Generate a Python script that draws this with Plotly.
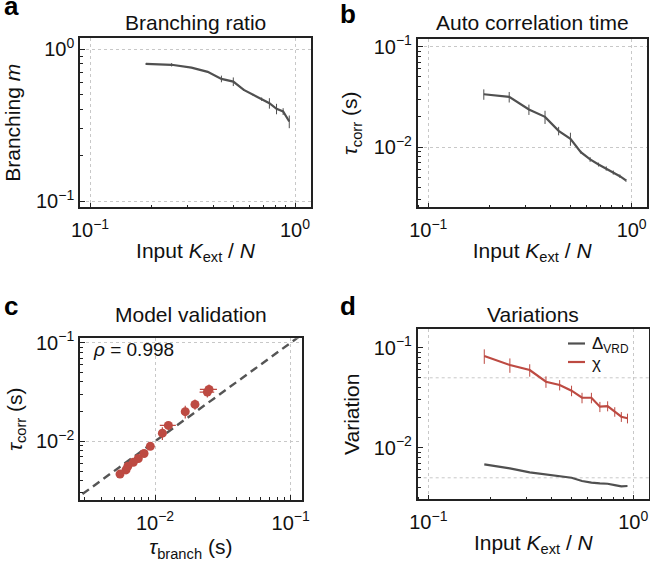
import plotly.graph_objects as go

# ---------------- data ----------------
k_ext = [0.1875, 0.25, 0.3125, 0.375, 0.4375, 0.5, 0.5625, 0.625, 0.6875, 0.75, 0.8125, 0.875, 0.9375]

branching_m = [0.80, 0.79, 0.757, 0.71, 0.638, 0.612, 0.54, 0.50, 0.469, 0.441, 0.405, 0.389, 0.334]
branching_err = [0.012, 0.02, 0.005, 0.005, 0.032, 0.04, 0.008, 0.008, 0.012, 0.035, 0.032, 0.02, 0.032]

tau_corr = [0.0336, 0.0316, 0.0237, 0.0200, 0.0145, 0.0121, 0.0089, 0.00753, 0.0067, 0.00612, 0.00558, 0.00513, 0.00465]
tau_corr_err = [0.004, 0.0038, 0.0028, 0.003, 0.0014, 0.0018, 0.0003, 0.0004, 0.0003, 0.0003, 0.00026, 0.0002, 0.00015]

tau_branch = [0.025, 0.0243, 0.0197, 0.0167, 0.01254, 0.01133, 0.00923, 0.0083, 0.00753, 0.00692, 0.0063, 0.00611, 0.00552]
tau_branch_err = [0.0036, 0.003, 0.0008, 0.0008, 0.0017, 0.0006, 0.0003, 0.0003, 0.0002, 0.0002, 0.0002, 0.0002, 0.0002]

delta_vrd = [0.00682, 0.00622, 0.00567, 0.00542, 0.00521, 0.00501, 0.00464, 0.00447, 0.0044, 0.00436, 0.00423, 0.00411, 0.00414]
chi = [0.0826, 0.0671, 0.0598, 0.0457, 0.0424, 0.0372, 0.0316, 0.0316, 0.0257, 0.0261, 0.0229, 0.0204, 0.0197]
chi_err = [0.0137, 0.011, 0.0085, 0.006, 0.005, 0.0045, 0.0038, 0.0038, 0.003, 0.003, 0.0025, 0.0023, 0.0022]

identity_line = [0.001, 1.0]
rho_text = "<i>ρ</i> = 0.998"

ticks_k = [0.1, 1.0]
ticks_k_text = ["10<sup>−1</sup>", "10<sup>0</sup>"]
ticks_m = [0.1, 1.0]
ticks_m_text = ["10<sup>−1</sup>", "10<sup>0</sup>"]
ticks_tau = [0.01, 0.1]
ticks_tau_text = ["10<sup>−2</sup>", "10<sup>−1</sup>"]
grid_d = [0.05, 0.005]

GRAY = "#505050"
RED = "#bd4a42"
FONT = "Liberation Sans, Arial, sans-serif"
W, H = 650, 562


def minor_vals(e0, e1):
    return [k * 10.0 ** e for e in range(e0, e1) for k in range(2, 10)]


fig = go.Figure()

# a
fig.add_trace(go.Scatter(x=k_ext, y=branching_m, mode="lines",
                         line=dict(color=GRAY, width=2.2),
                         error_y=dict(type="data", array=branching_err, color=GRAY, thickness=1, width=0),
                         xaxis="x", yaxis="y", showlegend=False))
# b
fig.add_trace(go.Scatter(x=k_ext, y=tau_corr, mode="lines",
                         line=dict(color=GRAY, width=2.2),
                         error_y=dict(type="data", array=tau_corr_err, color=GRAY, thickness=1, width=0),
                         xaxis="x2", yaxis="y2", showlegend=False))
# c
fig.add_trace(go.Scatter(x=identity_line, y=identity_line, mode="lines",
                         line=dict(color="#555555", width=2.4, dash="8px,5px"),
                         xaxis="x3", yaxis="y3", showlegend=False))
fig.add_trace(go.Scatter(x=tau_branch, y=tau_corr, mode="markers",
                         marker=dict(color=RED, size=9),
                         error_x=dict(type="data", array=tau_branch_err, color=RED, thickness=1.2, width=0),
                         error_y=dict(type="data", array=tau_corr_err, color=RED, thickness=1.2, width=0),
                         xaxis="x3", yaxis="y3", showlegend=False))
# d
fig.add_trace(go.Scatter(x=k_ext, y=delta_vrd, mode="lines", name="Δ<sub>VRD</sub>",
                         line=dict(color=GRAY, width=2.2),
                         xaxis="x4", yaxis="y4", showlegend=False))
fig.add_trace(go.Scatter(x=k_ext, y=chi, mode="lines", name="χ",
                         line=dict(color=RED, width=2.2),
                         error_y=dict(type="data", array=chi_err, color=RED, thickness=1, width=0),
                         xaxis="x4", yaxis="y4", showlegend=False))


def px_dom_x(a, b):
    return [a / W, b / W]


def px_dom_y(top, bottom):
    return [1 - bottom / H, 1 - top / H]


common = dict(type="log", showline=True, linecolor="#222222", linewidth=1.6, mirror=True,
              ticks="inside", ticklen=5, tickwidth=1.2, tickcolor="#222222",
              gridcolor="#c8c8c8", griddash="dot", gridwidth=1, zeroline=False,
              tickfont=dict(family=FONT, size=20, color="#111111"),
              ticklabeloverflow="allow", automargin=False)


def axis(domain, rng, tickvals, ticktext, minor, anchor, title, standoff, grid=True, lab_off=0):
    d = dict(common)
    d.update(domain=domain, range=rng, tickvals=tickvals, ticktext=ticktext, anchor=anchor,
             showgrid=grid, ticklabelstandoff=lab_off,
             minor=dict(tickvals=minor, ticks="inside", ticklen=3, tickwidth=1, tickcolor="#222222", showgrid=False),
             title=dict(text=title, font=dict(family=FONT, size=21, color="#111111"), standoff=standoff))
    return d


xlab = "Input <i>K</i><sub>ext</sub> / <i>N</i>"
fig.update_layout(
    width=W, height=H, margin=dict(l=0, r=0, t=0, b=0),
    plot_bgcolor="white", paper_bgcolor="white",
    font=dict(family=FONT, color="#111111"),
    xaxis=axis(px_dom_x(80, 311), [-1.049, 0.078], ticks_k, ticks_k_text, minor_vals(-2, 1), "y", xlab, 3, lab_off=4),
    yaxis=axis(px_dom_y(38.3, 207.3), [-1.041, 0.072], ticks_m, ticks_m_text, minor_vals(-2, 1), "x", "Branching <i>m</i>", 10),
    xaxis2=axis(px_dom_x(417.7, 646.7), [-1.052, 0.074], ticks_k, ticks_k_text, minor_vals(-2, 1), "y2", xlab, 3, lab_off=4),
    yaxis2=axis(px_dom_y(39.3, 207.3), [-2.60, -0.926], ticks_tau, ticks_tau_text, minor_vals(-3, 0), "x2", "<i>τ</i><sub>corr</sub> (s)", 10),
    xaxis3=axis(px_dom_x(80, 301.7), [-2.553, -0.919], ticks_tau, ticks_tau_text, minor_vals(-3, 0), "y3", "<i>τ</i><sub>branch</sub> (s)", 7, lab_off=4),
    yaxis3=axis(px_dom_y(338.3, 500), [-2.595, -0.955], ticks_tau, ticks_tau_text, minor_vals(-3, 0), "x3", "<i>τ</i><sub>corr</sub> (s)", 8),
    xaxis4=axis(px_dom_x(417.7, 649), [-1.052, 0.077], ticks_k, ticks_k_text, minor_vals(-2, 1), "y4", xlab, 3, lab_off=4),
    yaxis4=axis(px_dom_y(329.3, 499.3), [-2.516, -0.816], ticks_tau, ticks_tau_text, minor_vals(-3, 0), "x4", "Variation", 8, grid=False),
)

# dotted grid lines of panel d at 5e-2 and 5e-3
for gv in grid_d:
    fig.add_shape(type="line", xref="x4 domain", yref="y4", x0=0, x1=1, y0=gv, y1=gv,
                  line=dict(color="#c8c8c8", width=1, dash="dot"), layer="below")

ann = []
# panel letters
for txt, x, y in [("a", 2, 6.5), ("b", 338, 14.5), ("c", 1.5, 305.5), ("d", 338, 305.5)]:
    ann.append(dict(text=f"<b>{txt}</b>", x=x / W, y=1 - y / H, xref="paper", yref="paper",
                    xanchor="left", yanchor="middle", showarrow=False,
                    font=dict(family=FONT, size=26, color="#000000")))
# titles
for txt, x, y in [("Branching ratio", 195.5, 22.7), ("Auto correlation time", 532.2, 22.7),
                  ("Model validation", 190.8, 314.3), ("Variations", 533.3, 314.3)]:
    ann.append(dict(text=txt, x=x / W, y=1 - y / H, xref="paper", yref="paper",
                    xanchor="center", yanchor="middle", showarrow=False,
                    font=dict(family=FONT, size=21, color="#111111")))
# rho
ann.append(dict(text=rho_text, x=91 / W, y=1 - 349.5 / H, xref="paper", yref="paper",
                xanchor="left", yanchor="middle", showarrow=False,
                font=dict(family=FONT, size=19, color="#111111")))
# custom legend (panel d)
for txt, col, y in [("Δ<sub>VRD</sub>", GRAY, 343.5), ("χ", RED, 362)]:
    fig.add_shape(type="line", xref="paper", yref="paper", x0=568 / W, x1=585 / W,
                  y0=1 - y / H, y1=1 - y / H, line=dict(color=col, width=2.2))
    ann.append(dict(text=txt, x=590 / W, y=1 - (y + 1) / H, xref="paper", yref="paper",
                    xanchor="left", yanchor="middle", showarrow=False,
                    font=dict(family=FONT, size=17, color="#111111")))
fig.update_layout(annotations=ann)

fig.write_html("out.html", config={"displayModeBar": False},
               post_script="document.body.style.margin='0';document.body.style.padding='0';")
